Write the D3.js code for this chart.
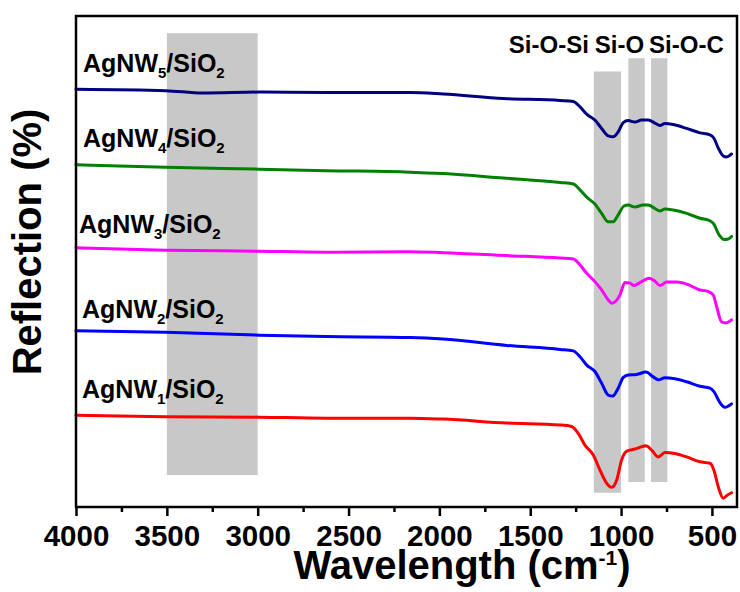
<!DOCTYPE html>
<html>
<head>
<meta charset="utf-8">
<script src="https://cdn.jsdelivr.net/npm/d3@7"></script>
<style>
  html, body { margin: 0; padding: 0; background: #fff; }
  svg { display: block; font-family: "Liberation Sans", Arial, sans-serif; font-weight: bold; }
</style>
</head>
<body>
<svg id="chart" width="740" height="592"></svg>
<script>
// FTIR reflection spectra, [wavenumber (cm-1), reflection (a.u., stacked)]
const agnw5 = [[4000,85.1],[3505,84.8],[3303,84.3],[2991,84.5],[2624,84.4],[2162,84.4],[1979,84.1],[1648,83.2],[1336,82.8],[1263,82.6],[1226,81.5],[1189,80.0],[1144,78.8],[1107,77.1],[1071,75.6],[1043,75.4],[1016,76.4],[988,78.3],[961,78.7],[924,78.4],[887,78.8],[850,78.8],[814,78.2],[786,77.7],[759,78.1],[713,77.9],[639,77.1],[566,76.2],[511,75.8],[489,75.1],[465,73.1],[438,71.5],[419,71.3],[392,71.9]];
const agnw4 = [[4000,69.7],[3505,69.2],[2991,68.8],[2624,68.5],[2162,68.2],[1979,67.9],[1648,67.0],[1336,66.1],[1263,65.8],[1226,64.6],[1189,63.1],[1144,61.7],[1107,59.8],[1071,58.1],[1043,58.1],[1016,59.5],[984,61.3],[961,61.5],[924,61.1],[878,61.5],[850,61.5],[814,60.8],[786,60.3],[759,60.7],[713,60.5],[639,59.8],[566,58.8],[511,58.3],[489,57.6],[465,55.7],[434,54.5],[410,54.6],[392,55.1]];
const agnw3 = [[4000,52.8],[3505,52.3],[2991,52.1],[2624,51.9],[2162,52.0],[1979,51.8],[1630,51.2],[1336,50.7],[1263,50.5],[1226,49.3],[1189,47.6],[1144,45.9],[1107,44.2],[1071,42.2],[1052,41.5],[1006,43.2],[979,45.7],[951,45.6],[929,45.1],[887,45.9],[845,46.6],[814,46.0],[786,45.1],[749,45.8],[694,45.8],[639,45.4],[566,44.2],[522,43.9],[493,43.2],[474,40.8],[447,37.7],[423,37.5],[392,38.1]];
const agnw2 = [[4000,35.9],[3505,35.6],[2991,35.0],[2624,34.7],[2162,34.5],[1979,34.2],[1630,32.9],[1336,32.1],[1263,31.8],[1226,30.6],[1189,28.9],[1144,27.6],[1107,25.2],[1071,22.8],[1046,22.6],[1016,24.2],[988,26.4],[961,26.9],[914,27.0],[863,27.5],[823,26.5],[795,25.9],[759,26.3],[704,26.1],[639,25.5],[566,24.6],[511,24.2],[489,23.5],[460,21.5],[428,20.3],[392,21.0]];
const agnw1 = [[4000,18.7],[3505,18.4],[2991,18.3],[2624,18.1],[2162,18.1],[1979,17.9],[1630,17.1],[1336,16.7],[1272,16.4],[1236,15.0],[1199,12.6],[1153,10.6],[1116,7.5],[1079,4.8],[1052,4.0],[1024,5.5],[997,9.6],[969,11.4],[924,11.8],[863,12.5],[832,11.6],[795,10.2],[759,11.1],[704,10.9],[639,10.2],[566,9.2],[511,8.9],[489,7.5],[465,4.1],[438,1.8],[416,2.4],[392,2.9]];

const seriesData   = [agnw5, agnw4, agnw3, agnw2, agnw1];
const seriesIndex  = ["5", "4", "3", "2", "1"];
const seriesColors = ["#000080", "#008000", "#ff00ff", "#0000ff", "#ff0000"];

// Highlighted absorption bands [from, to] in cm-1 and vertical extent in a.u.
const bandRanges = [[3500, 3000], [1150, 1000], [960, 870], [835, 745]];
const bandSpans  = [[6.5, 96.5], [2.9, 88.7], [5.1, 91.4], [5.1, 91.4]];
const bandNames  = ["Si-O-Si", "Si-O", "Si-O-C"];

const majorTicks = [4000, 3500, 3000, 2500, 2000, 1500, 1000, 500];
const minorTicks = [3750, 3250, 2750, 2250, 1750, 1250, 750];

const svg = d3.select("#chart");
const W = 740, H = 592;
const m = { left: 76, right: 3, top: 16, bottom: 85 };

const x = d3.scaleLinear().domain([4000, 362]).range([m.left, W - m.right]);
const y = d3.scaleLinear().domain([0, 100]).range([H - m.bottom, m.top]);

svg.append("rect").attr("width", W).attr("height", H).attr("fill", "#fff");

// bands
svg.append("g").selectAll("rect")
  .data(bandRanges)
  .join("rect")
  .attr("x", d => x(d[0]))
  .attr("width", d => x(d[1]) - x(d[0]))
  .attr("y", (d, i) => y(bandSpans[i][1]))
  .attr("height", (d, i) => y(bandSpans[i][0]) - y(bandSpans[i][1]))
  .attr("fill", "#c8c8c8");

// spectra
const line = d3.line()
  .x(d => x(d[0]))
  .y(d => y(d[1]))
  .curve(d3.curveMonotoneX);

svg.append("g").selectAll("path")
  .data(seriesData)
  .join("path")
  .attr("d", line)
  .attr("fill", "none")
  .attr("stroke", (d, i) => seriesColors[i])
  .attr("stroke-width", 3)
  .attr("stroke-linejoin", "round")
  .attr("stroke-linecap", "round");

// series labels
const labelBaselines = [72, 147, 233, 318, 398];
const labelX = [83, 83, 79, 82, 82];
seriesIndex.forEach((n, i) => {
  const t = svg.append("text")
    .attr("x", labelX[i]).attr("y", labelBaselines[i])
    .attr("font-size", 25).attr("fill", "#000");
  t.append("tspan").text("AgNW");
  t.append("tspan").text(n).attr("font-size", 15).attr("dy", 6);
  t.append("tspan").text("/SiO").attr("dy", -6);
  t.append("tspan").text("2").attr("font-size", 15).attr("dy", 6);
});

// band labels
const bandLabelX = [x(1150) - 5, x(1150) + 1, x(835) - 2];
const bandAnchor = ["end", "start", "start"];
bandNames.forEach((s, i) => {
  svg.append("text")
    .attr("x", bandLabelX[i]).attr("y", 53)
    .attr("text-anchor", bandAnchor[i])
    .attr("font-size", 24)
    .text(s);
});

// x axis
const xAxis = d3.axisBottom(x)
  .tickValues(majorTicks)
  .tickSize(9)
  .tickPadding(9)
  .tickFormat(d3.format("d"));
const gx = svg.append("g")
  .attr("transform", `translate(0,${H - m.bottom})`)
  .call(xAxis);
gx.select(".domain").remove();
gx.selectAll(".tick line").attr("stroke", "#000").attr("stroke-width", 2.5);
gx.selectAll(".tick text")
  .attr("font-size", 29.5).attr("font-weight", "bold")
  .attr("font-family", "'Liberation Sans', Arial, sans-serif")
  .attr("fill", "#000");

const gMinor = svg.append("g")
  .attr("transform", `translate(0,${H - m.bottom})`)
  .call(d3.axisBottom(x).tickValues(minorTicks).tickSize(5).tickFormat(""));
gMinor.select(".domain").remove();
gMinor.selectAll(".tick line").attr("stroke", "#000").attr("stroke-width", 2.5);

// frame
svg.append("rect")
  .attr("x", m.left).attr("y", m.top)
  .attr("width", W - m.right - m.left)
  .attr("height", H - m.bottom - m.top)
  .attr("fill", "none")
  .attr("stroke", "#000")
  .attr("stroke-width", 2.5);

// axis titles
const xt = svg.append("text")
  .attr("x", 462).attr("y", 579)
  .attr("text-anchor", "middle")
  .attr("font-size", 40);
xt.append("tspan").text("Wavelength (cm");
xt.append("tspan").text("-1").attr("font-size", 21).attr("dy", -14);
xt.append("tspan").text(")").attr("dy", 14);

svg.append("text")
  .attr("transform", "translate(41,242) rotate(-90)")
  .attr("text-anchor", "middle")
  .attr("font-size", 40)
  .text("Reflection (%)");
</script>
</body>
</html>
